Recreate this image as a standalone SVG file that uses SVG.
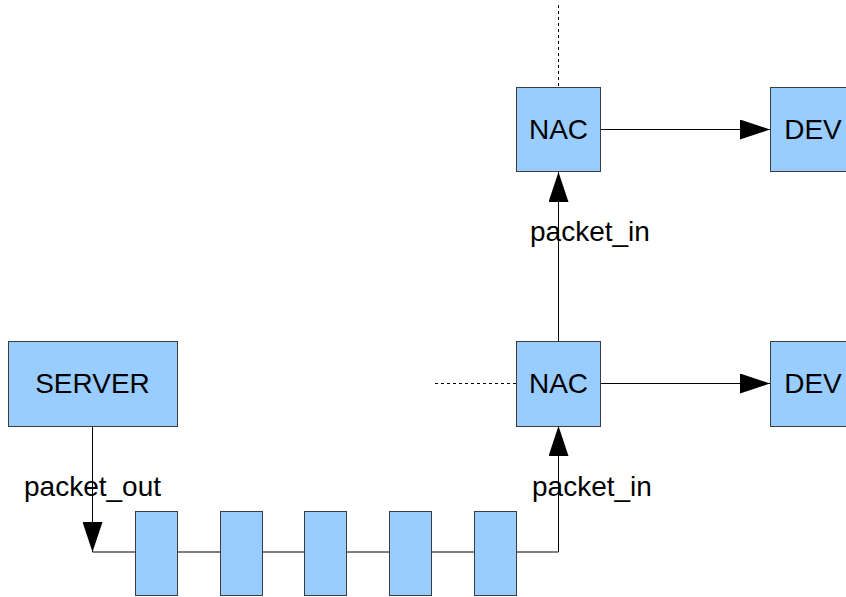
<svg xmlns="http://www.w3.org/2000/svg" width="846" height="597" viewBox="0 0 846 597">
<defs>
<style>
.box{fill:#99ccff;stroke:#3c3c3c;stroke-width:1}
.lbl{font-family:"Liberation Sans",Arial,sans-serif;font-size:28px;fill:#000}
.mid{text-anchor:middle}
.ln{fill:none;stroke:#000;stroke-width:1}
.dot{fill:none;stroke:#000;stroke-width:1;stroke-dasharray:3 3}
</style>
<marker id="ah" viewBox="0 0 30 20" refX="30" refY="10" markerWidth="30" markerHeight="20" markerUnits="userSpaceOnUse" orient="auto">
<path d="M0,0 L30,10 L0,20 Z" fill="#000"/>
</marker>
</defs>
<rect width="846" height="597" fill="#fff"/>
<g id="connectors">
<path class="ln" d="M92.5,426 V552 H558.5 V426" marker-end="url(#ah)"/>
<path class="ln" d="M92.5,426 V552" marker-end="url(#ah)"/>
<path class="ln" d="M558.5,341 V172" marker-end="url(#ah)"/>
<path class="ln" d="M601,383.5 H770" marker-end="url(#ah)"/>
<path class="ln" d="M601,129.5 H770" marker-end="url(#ah)"/>
<path class="dot" d="M435,383.5 H516"/>
<path class="dot" d="M558.5,5 V87"/>
<text class="lbl" x="24" y="496">packet_out</text>
<text class="lbl" x="532" y="496">packet_in</text>
<text class="lbl" x="530" y="241">packet_in</text>
</g>
<g id="server"><rect class="box" x="8.5" y="341.5" width="169" height="85"/><text class="lbl mid" x="92.5" y="393">SERVER</text></g>
<g id="nac1"><rect class="box" x="516.5" y="341.5" width="84" height="85"/><text class="lbl mid" x="558.5" y="393">NAC</text></g>
<g id="nac2"><rect class="box" x="516.5" y="87.5" width="84" height="84"/><text class="lbl mid" x="558.5" y="139">NAC</text></g>
<g id="dev1"><rect class="box" x="770.5" y="341.5" width="85" height="85"/><text class="lbl mid" x="813" y="393">DEV</text></g>
<g id="dev2"><rect class="box" x="770.5" y="87.5" width="85" height="84"/><text class="lbl mid" x="813" y="139">DEV</text></g>
<g id="q1"><rect class="box" x="135.5" y="511.5" width="42" height="84"/></g>
<g id="q2"><rect class="box" x="220.5" y="511.5" width="42" height="84"/></g>
<g id="q3"><rect class="box" x="304.5" y="511.5" width="42" height="84"/></g>
<g id="q4"><rect class="box" x="389.5" y="511.5" width="42" height="84"/></g>
<g id="q5"><rect class="box" x="474.5" y="511.5" width="42" height="84"/></g>
</svg>
